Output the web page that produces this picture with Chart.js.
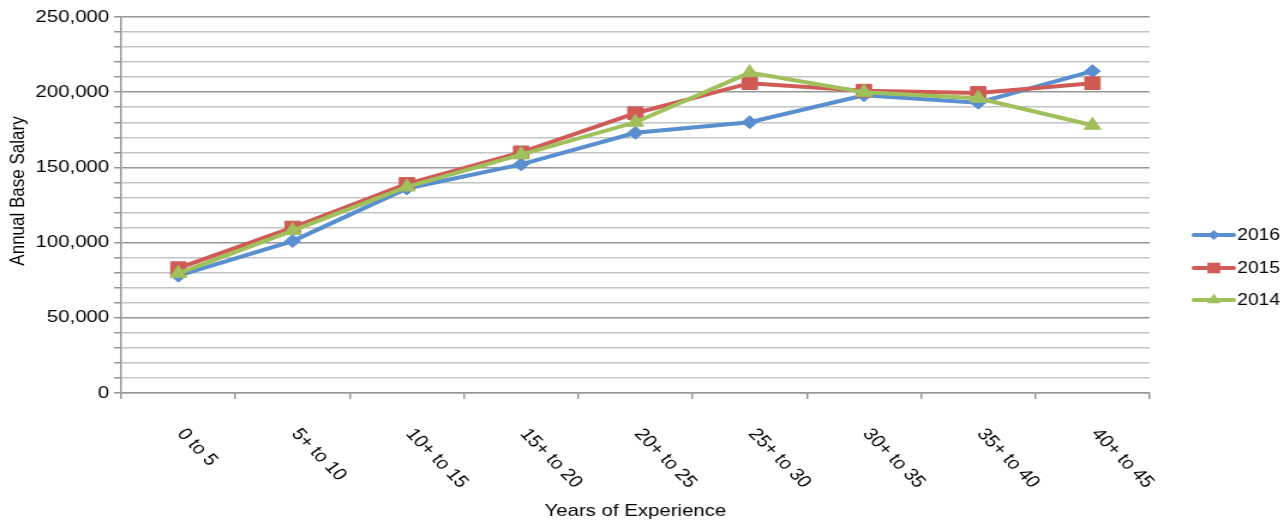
<!DOCTYPE html>
<html>
<head>
<meta charset="utf-8">
<title>Annual Base Salary by Years of Experience</title>
<script src="https://cdn.jsdelivr.net/npm/chart.js@4.4.1/dist/chart.umd.min.js"></script>
<style>
  html, body { margin: 0; padding: 0; background: #fff; overflow: hidden; }
  /* the reference is a horizontally stretched export, so stretch the canvas the same way */
  #wrap { width: 1072px; height: 522px; transform: scaleX(1.2); transform-origin: 0 0; }
</style>
</head>
<body>
<div id="wrap"><canvas id="chart" width="1072" height="522"></canvas></div>
<script>
'use strict';

////////////////////////////
/// data
const categories = ['0 to 5', '5+ to 10', '10+ to 15', '15+ to 20', '20+ to 25', '25+ to 30', '30+ to 35', '35+ to 40', '40+ to 45'];
const seriesNames = ['2016', '2015', '2014'];
const salary2016 = [78000, 101000, 136000, 152000, 173000, 180000, 198000, 193000, 214000];
const salary2015 = [83000, 110000, 139000, 160000, 186000, 206000, 201000, 199500, 206000];
const salary2014 = [79500, 108000, 137000, 158500, 180000, 213000, 200000, 196000, 178000];
const yMax = 250000;
const yMajorStep = 50000;
const yMinorStep = 10000;
const xTitle = 'Years of Experience';
const yTitle = 'Annual Base Salary';

/// styles
const colors = ['#5a8fcf', '#d05b56', '#9fc05b'];
const markers = ['rectRot', 'rect', 'triangle'];
const markerRadius = [6.5, 9, 8];
const legendRadius = [5, 7.5, 6.5];
const majorGrid = '#979797';
const minorGrid = '#c4c4c4';
const font = '"Liberation Sans", Arial, sans-serif';
const labelAngle = Math.atan(1.2); // looks like 45deg once stretched

//////////////////////////////////////////////////////
/// helpers
const drawMarker = function (ctx, style, cx, cy, r) {
  ctx.beginPath();
  if (style === 'rect') {
    const s = r * Math.SQRT1_2;
    ctx.rect(cx - s, cy - s, 2 * s, 2 * s);
  } else if (style === 'rectRot') {
    ctx.moveTo(cx - r, cy);
    ctx.lineTo(cx, cy - r);
    ctx.lineTo(cx + r, cy);
    ctx.lineTo(cx, cy + r);
    ctx.closePath();
  } else {
    ctx.moveTo(cx, cy - r);
    ctx.lineTo(cx + r * 0.866, cy + r * 0.5);
    ctx.lineTo(cx - r * 0.866, cy + r * 0.5);
    ctx.closePath();
  }
  ctx.fill();
};

/// rotated category labels, titles and the line+marker legend
const excelBits = {
  id: 'excelBits',
  afterDraw(chart) {
    const ctx = chart.ctx;
    const xScale = chart.scales.x;
    const area = chart.chartArea;
    ctx.save();
    ctx.fillStyle = '#000';
    ctx.font = '17px ' + font;

    // x labels, reading downwards to the right
    ctx.textAlign = 'left';
    ctx.textBaseline = 'middle';
    categories.forEach((c, i) => {
      const px = xScale.getPixelForValue(i);
      ctx.save();
      ctx.translate(px + 2, 431);
      ctx.rotate(labelAngle);
      ctx.fillText(c, 0, 0);
      ctx.restore();
    });

    // axis titles
    ctx.textAlign = 'center';
    ctx.fillText(xTitle, (area.left + area.right) / 2, 511);
    ctx.save();
    ctx.translate(15, 191);
    ctx.rotate(-Math.PI / 2);
    ctx.fillText(yTitle, 0, 0);
    ctx.restore();

    // legend
    ctx.textAlign = 'left';
    ctx.font = '16px ' + font;
    const rows = [235, 268, 300];
    seriesNames.forEach((name, i) => {
      const y = rows[i];
      ctx.strokeStyle = colors[i];
      ctx.fillStyle = colors[i];
      ctx.lineWidth = 4;
      ctx.lineCap = 'round';
      ctx.beginPath();
      ctx.moveTo(995, y);
      ctx.lineTo(1028, y);
      ctx.stroke();
      drawMarker(ctx, markers[i], 1011.5, y, legendRadius[i]);
      ctx.fillStyle = '#000';
      ctx.fillText(name, 1031, y + 1);
    });
    ctx.restore();
  },
};

//////////////////////////////////////////////////////
/// chart
const makeSet = function (i, values, order) {
  return {
    label: seriesNames[i],
    data: values,
    borderColor: colors[i],
    backgroundColor: colors[i],
    borderWidth: 4,
    pointStyle: markers[i],
    pointRadius: markerRadius[i],
    pointHoverRadius: markerRadius[i],
    pointBorderWidth: 1,
    tension: 0,
    order: order,
  };
};

const chartLine = new Chart(document.getElementById('chart'), {
  type: 'line',
  data: {
    labels: categories,
    datasets: [
      makeSet(0, salary2016, 3),
      makeSet(1, salary2015, 2),
      makeSet(2, salary2014, 1),
    ],
  },
  options: {
    responsive: false,
    animation: false,
    events: [],
    layout: { padding: { top: 17, right: 114, bottom: 0, left: 0 } },
    plugins: {
      legend: { display: false },
      tooltip: { enabled: false },
    },
    scales: {
      x: {
        type: 'category',
        offset: true,
        afterFit(scale) {
          scale.height = 129;
        },
        grid: {
          display: true,
          offset: true,
          drawOnChartArea: false,
          drawTicks: true,
          tickLength: 6,
          color: majorGrid,
          lineWidth: 1.5,
        },
        border: { color: majorGrid, width: 1.5 },
        ticks: { display: false },
      },
      y: {
        min: 0,
        max: yMax,
        afterFit(scale) {
          scale.width = 101;
        },
        grid: {
          color: (c) => (c.tick && c.tick.value % yMajorStep === 0 ? majorGrid : minorGrid),
          tickColor: majorGrid,
          lineWidth: 1.5,
          tickLength: 6,
        },
        border: { color: majorGrid, width: 1.5 },
        ticks: {
          stepSize: yMinorStep,
          autoSkip: false,
          padding: 4,
          color: '#000',
          font: { family: font, size: 17 },
          callback: (v) => (v % yMajorStep === 0 ? v.toLocaleString('en-US') : ''),
        },
      },
    },
  },
  plugins: [excelBits],
});
</script>
</body>
</html>
